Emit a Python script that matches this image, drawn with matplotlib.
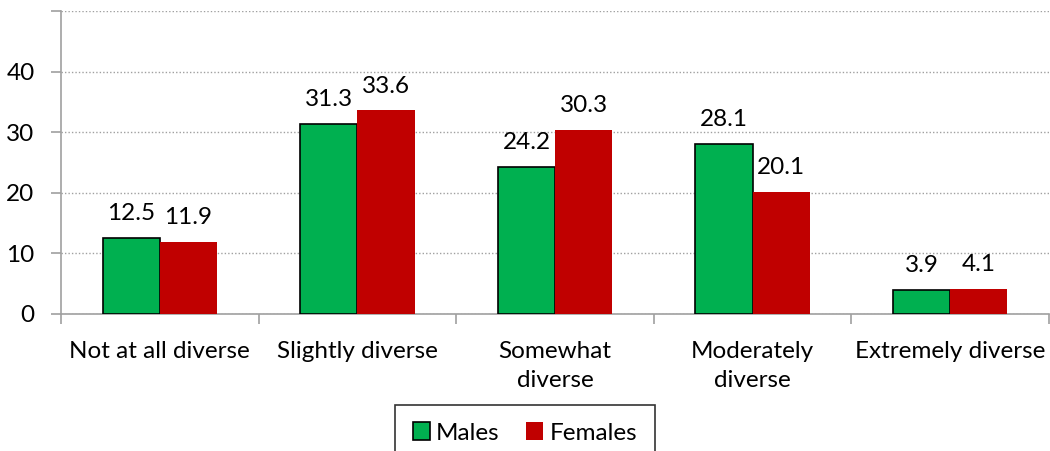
import matplotlib
matplotlib.use("Agg")
import matplotlib.pyplot as plt
import numpy as np

categories = ["Not at all diverse", "Slightly diverse", "Somewhat\ndiverse", "Moderately\ndiverse", "Extremely diverse"]
males = [12.5, 31.3, 24.2, 28.1, 3.9]
females = [11.9, 33.6, 30.3, 20.1, 4.1]
yticks = [0, 10, 20, 30, 40, 50]
ytick_labels = ["0", "10", "20", "30", "40", ""]

plt.rcParams['font.family'] = ['Lato', 'DejaVu Sans']
FS = 17.5

fig = plt.figure(figsize=(10.5, 4.51), dpi=100)
ax = fig.add_axes([61/1050, 1-313.5/451, (1049-61)/1050, (313.5-11.3)/451])

x = np.arange(len(categories))
w = 0.289
green = "#00B050"
red = "#C00000"
ax.bar(x - w/2, males, width=w, color=green, edgecolor="black", linewidth=1.2, label="Males", zorder=3)
ax.bar(x + w/2, females, width=w, color=red, edgecolor=red, linewidth=0, label="Females", zorder=3)

for xi, v in zip(x - w/2, males):
    ax.annotate(f"{v:.1f}", (xi, v), xytext=(0, 10), textcoords="offset points",
                ha="center", va="bottom", fontsize=FS, color="black")
for xi, v in zip(x + w/2, females):
    ax.annotate(f"{v:.1f}", (xi, v), xytext=(0, 10), textcoords="offset points",
                ha="center", va="bottom", fontsize=FS, color="black")

ax.set_xlim(-0.5, len(categories) - 0.5)
ax.set_ylim(0, 50)
ax.set_yticks(yticks)
ax.set_yticklabels(ytick_labels, fontsize=FS)
ax.yaxis.grid(True, linestyle=(0, (1, 1.5)), color="#A0A0A0", linewidth=1.0, zorder=0)

ax.set_xticks(x)
ax.set_xticklabels(categories, fontsize=FS, linespacing=1.45)
ax.tick_params(axis="x", length=0, pad=20)
ax.set_xticks(np.arange(-0.5, len(categories)), minor=True)
ax.tick_params(axis="x", which="minor", length=7, color="#A0A0A0", width=1.2)
ax.tick_params(axis="y", length=7, color="#A0A0A0", width=1.2, pad=12)

for s in ["top", "right"]:
    ax.spines[s].set_visible(False)
for s in ["left", "bottom"]:
    ax.spines[s].set_color("#A0A0A0")
    ax.spines[s].set_linewidth(1.2)

leg = fig.legend(loc="upper center", bbox_to_anchor=(525/1050, 1-405/451), ncol=2,
                 fontsize=FS, frameon=True, fancybox=False, edgecolor="black",
                 handlelength=0.7, handleheight=0.7, handletextpad=0.25, columnspacing=1.1,
                 borderpad=0.72, borderaxespad=0)
leg.get_frame().set_linewidth(1.2)

fig.savefig("out.png", dpi=100)
